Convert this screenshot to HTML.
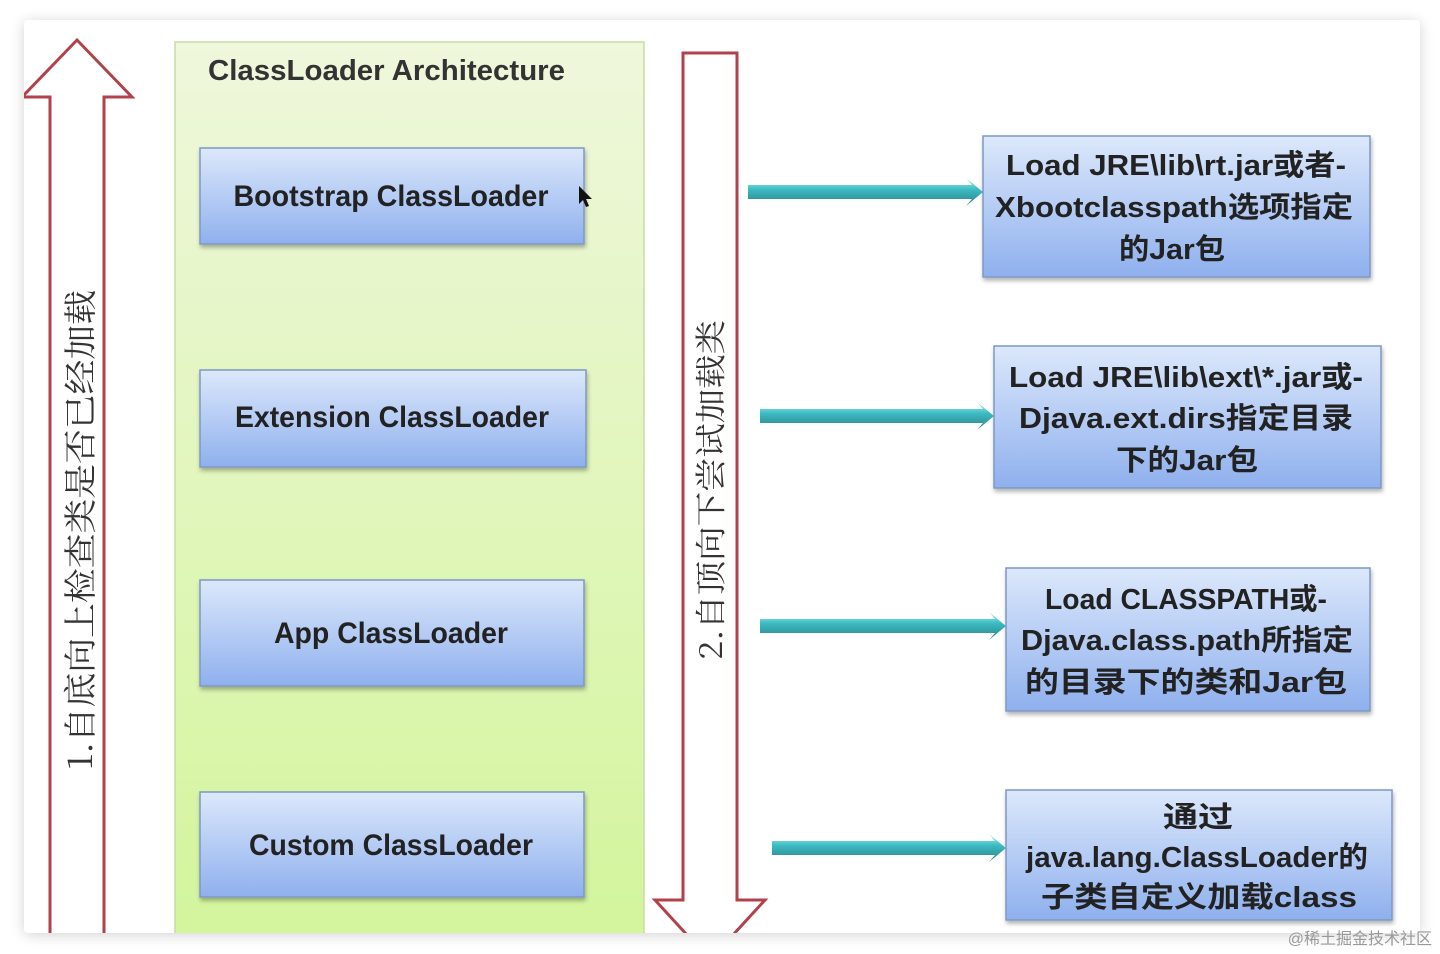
<!DOCTYPE html>
<html><head><meta charset="utf-8"><style>
html,body{margin:0;padding:0;background:#fff;width:1440px;height:954px;overflow:hidden}
.card{position:absolute;left:24px;top:20px;width:1396px;height:913px;background:#fff;box-shadow:0 2px 14px rgba(0,0,0,.18);overflow:hidden;border-radius:4px}
text{}
</style></head><body>
<div class="card"></div>
<svg width="1440" height="954" style="position:absolute;left:0;top:0" xmlns="http://www.w3.org/2000/svg">
<defs>
<linearGradient id="g" x1="0" y1="0" x2="0" y2="1"><stop offset="0" stop-color="#eff7dc"/><stop offset="1" stop-color="#d3f59c"/></linearGradient>
<linearGradient id="b" x1="0" y1="0" x2="0" y2="1"><stop offset="0" stop-color="#dce8fb"/><stop offset="1" stop-color="#8fb0ee"/></linearGradient>
<linearGradient id="t" x1="0" y1="0" x2="0" y2="1"><stop offset="0" stop-color="#a8f2f2"/><stop offset=".4" stop-color="#3cbcc2"/><stop offset="1" stop-color="#2a7f86"/></linearGradient>
<filter id="s" x="-5%" y="-5%" width="110%" height="120%"><feDropShadow dx="1" dy="3" stdDeviation="2" flood-color="#000" flood-opacity=".3"/></filter>
<clipPath id="c"><rect x="24" y="20" width="1396" height="913"/></clipPath>
</defs>
<g clip-path="url(#c)" font-family="Liberation Sans, Noto Sans CJK SC, sans-serif">
<rect x="175" y="42" width="469" height="900" fill="url(#g)" stroke="#c9dca5" stroke-width="1.5"/>
<text x="208" y="80" font-size="29" font-weight="bold" fill="#333" lengthAdjust="spacingAndGlyphs" textLength="357">ClassLoader Architecture</text>
<path d="M50,960 L50,97 L22,97 L77,40 L132,97 L104,97 L104,960" fill="#fff" stroke="#b2424a" stroke-width="3"/>
<text transform="translate(92,530) rotate(-90)" text-anchor="middle" font-size="33" fill="#333" font-family="Noto Serif CJK SC, serif" lengthAdjust="spacingAndGlyphs" textLength="480">1.自底向上检查类是否已经加载</text>
<path d="M683,53 L737,53 L737,900 L765,900 L710,960 L655,900 L683,900 Z" fill="#fff" stroke="#b2424a" stroke-width="3"/>
<text transform="translate(722,490) rotate(-90)" text-anchor="middle" font-size="31" fill="#333" font-family="Noto Serif CJK SC, serif" lengthAdjust="spacingAndGlyphs" textLength="340">2.自顶向下尝试加载类</text>
<g filter="url(#s)" stroke="#7d98c4" stroke-width="1.5" fill="url(#b)">
<rect x="200" y="148" width="384" height="96"/>
<rect x="200" y="370" width="386" height="97"/>
<rect x="200" y="580" width="384" height="106"/>
<rect x="200" y="792" width="384" height="105"/>
<rect x="983" y="136" width="387" height="141"/>
<rect x="994" y="346" width="387" height="142"/>
<rect x="1006" y="568" width="364" height="143"/>
<rect x="1006" y="790" width="386" height="130"/>
</g>
<g font-size="30" font-weight="bold" fill="#222" text-anchor="middle">
<text x="391" y="206" lengthAdjust="spacingAndGlyphs" textLength="315">Bootstrap ClassLoader</text>
<text x="392" y="427" lengthAdjust="spacingAndGlyphs" textLength="314">Extension ClassLoader</text>
<text x="391" y="643" lengthAdjust="spacingAndGlyphs" textLength="234">App ClassLoader</text>
<text x="391" y="855" lengthAdjust="spacingAndGlyphs" textLength="284">Custom ClassLoader</text>
</g>
<g font-size="29" font-weight="bold" fill="#222" text-anchor="middle">
<text x="1176" y="175" lengthAdjust="spacingAndGlyphs" textLength="340">Load JRE\lib\rt.jar或者-</text>
<text x="1174" y="217" lengthAdjust="spacingAndGlyphs" textLength="358">Xbootclasspath选项指定</text>
<text x="1172" y="259" lengthAdjust="spacingAndGlyphs" textLength="106">的Jar包</text>
<text x="1186" y="387" lengthAdjust="spacingAndGlyphs" textLength="354">Load JRE\lib\ext\*.jar或-</text>
<text x="1186" y="428" lengthAdjust="spacingAndGlyphs" textLength="334">Djava.ext.dirs指定目录</text>
<text x="1187" y="470" lengthAdjust="spacingAndGlyphs" textLength="142">下的Jar包</text>
<text x="1186" y="609" lengthAdjust="spacingAndGlyphs" textLength="282">Load CLASSPATH或-</text>
<text x="1187" y="650" lengthAdjust="spacingAndGlyphs" textLength="332">Djava.class.path所指定</text>
<text x="1186" y="692" lengthAdjust="spacingAndGlyphs" textLength="322">的目录下的类和Jar包</text>
<text x="1198" y="827" lengthAdjust="spacingAndGlyphs" textLength="70">通过</text>
<text x="1197" y="867" lengthAdjust="spacingAndGlyphs" textLength="342">java.lang.ClassLoader的</text>
<text x="1199" y="907" lengthAdjust="spacingAndGlyphs" textLength="316">子类自定义加载class</text>
</g>
<g fill="url(#t)">
<path d="M748,185 L972,185 L966,178 L983,192 L966,206 L972,199 L748,199 Z"/>
<path d="M760,409 L983,409 L977,402 L994,416 L977,430 L983,423 L760,423 Z"/>
<path d="M760,619 L995,619 L989,612 L1006,626 L989,640 L995,633 L760,633 Z"/>
<path d="M772,841 L995,841 L989,834 L1006,848 L989,862 L995,855 L772,855 Z"/>
</g>
<path d="M579,186 l0,18 l4,-4 l3,7 l3,-1 l-3,-7 l6,0 Z" fill="#111"/>
</g>
<text x="1432" y="944" text-anchor="end" font-size="16" fill="#999" font-family="Liberation Sans, Noto Sans CJK SC, sans-serif">@稀土掘金技术社区</text>
</svg>
</body></html>
